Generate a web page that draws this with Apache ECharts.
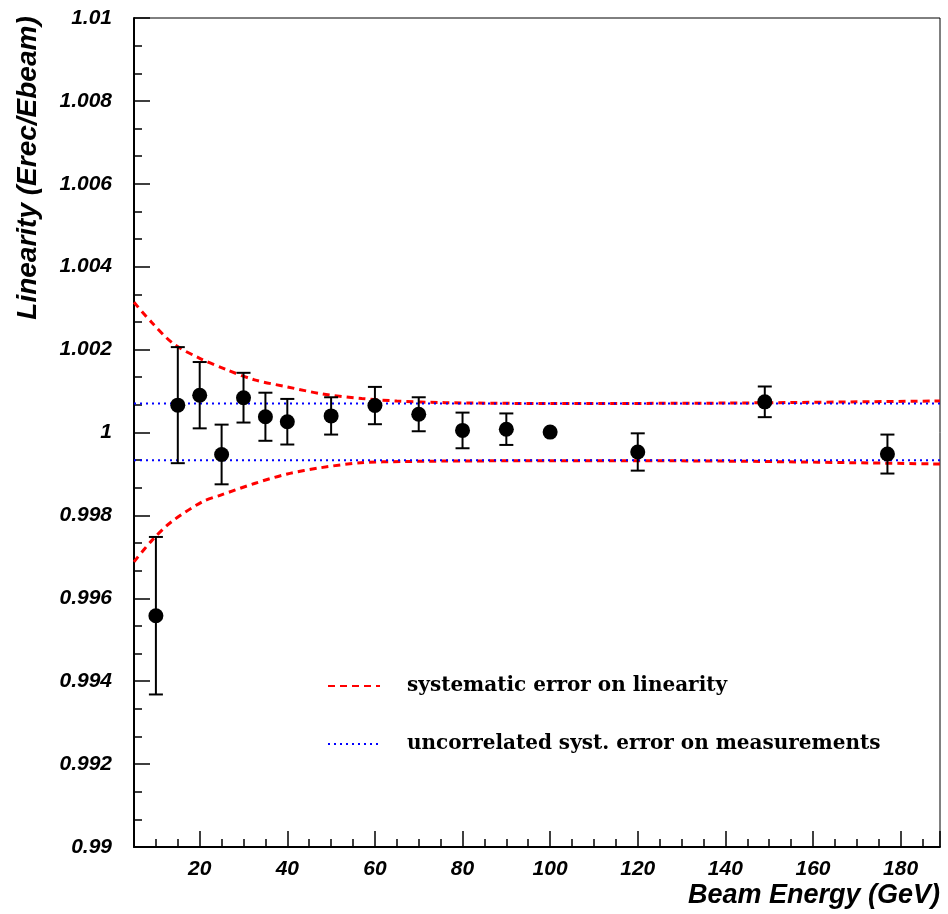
<!DOCTYPE html>
<html>
<head>
<meta charset="utf-8">
<script src="https://cdn.jsdelivr.net/npm/echarts@6/dist/echarts.min.js"></script>
<style>html,body{margin:0;padding:0;background:#fff;}#chart{width:948px;height:914px;}</style>
</head>
<body>
<div id="chart"></div>
<script>
// Measured points
var energies  = [10, 15, 20, 25, 30, 35, 40, 50, 60, 70, 80, 90, 100, 120, 149, 177];
var linearity = [0.99558, 1.00066, 1.00090, 0.99947, 1.00084, 1.00038, 1.00026, 1.00040, 1.00065, 1.00044, 1.00005, 1.00008, 1.00001, 0.99953, 1.00074, 0.99948];
var errors    = [0.0019, 0.0014, 0.0008, 0.00072, 0.0006, 0.00058, 0.00055, 0.00045, 0.00045, 0.00041, 0.00043, 0.00038, 0, 0.00045, 0.00037, 0.00047];

// Systematic error band (red dashed)
var sysUpperE = [5, 9, 14, 20, 26, 32.5, 40, 48, 57, 65, 76, 100, 140, 189];
var sysUpperV = [1.00314, 1.00266, 1.00214, 1.00179, 1.00152, 1.00127, 1.00110, 1.00093, 1.00082, 1.00076, 1.00072, 1.00070, 1.00071, 1.00076];
var sysLowerE = [5, 9.2, 13.6, 20.6, 24.8, 32.5, 40, 47.6, 56.8, 66.7, 76, 100, 140, 189];
var sysLowerV = [0.99688, 0.99741, 0.99785, 0.99833, 0.99849, 0.99877, 0.99900, 0.99915, 0.99927, 0.99930, 0.99931, 0.99932, 0.99931, 0.99924];

// Uncorrelated systematic error (blue dotted)
var uncorrE = [5, 189];
var uncorrUpper = [1.0007, 1.0007];
var uncorrLower = [0.99933, 0.99933];

var xMin = 5, xMax = 189, yMin = 0.99, yMax = 1.01;
var sysName = 'systematic error on linearity';
var uncName = 'uncorrelated syst. error on measurements';

function pairs(xs, ys) { return xs.map(function (x, i) { return [x, ys[i]]; }); }

var axisFont = { fontFamily: 'Liberation Sans', fontStyle: 'italic', fontWeight: 'bold', color: '#000' };
var gridBox = { left: 134, right: 8, top: 18, bottom: 67, containLabel: false };

var chart = echarts.init(document.getElementById('chart'), null, { renderer: 'canvas' });
chart.setOption({
  backgroundColor: '#fff',
  animation: false,
  grid: [
    Object.assign({ show: true, borderColor: '#000', borderWidth: 1, backgroundColor: 'transparent' }, gridBox),
    Object.assign({ show: false }, gridBox)
  ],
  xAxis: [
    {
      type: 'value', gridIndex: 0, min: xMin, max: xMax, interval: 5,
      axisLine: { show: true, onZero: false, lineStyle: { color: '#000', width: 2 } },
      axisTick: { show: true, inside: true, length: 8, lineStyle: { color: '#000', width: 1.5 } },
      axisLabel: Object.assign({ fontSize: 21, margin: 12, formatter: function (v) { return (v % 20 === 0) ? String(v) : ''; } }, axisFont),
      splitLine: { show: false }
    },
    {
      type: 'value', gridIndex: 1, min: xMin, max: xMax, minInterval: 20, maxInterval: 20,
      axisLine: { show: false, onZero: false },
      axisTick: { show: true, inside: true, length: 16, lineStyle: { color: '#000', width: 1.5 } },
      axisLabel: { show: false },
      splitLine: { show: false }
    }
  ],
  yAxis: [
    {
      type: 'value', gridIndex: 0, min: yMin, max: yMax, interval: 0.002,
      axisLine: { show: true, onZero: false, lineStyle: { color: '#000', width: 2 } },
      axisTick: { show: true, inside: true, length: 16, lineStyle: { color: '#000', width: 1.5 } },
      minorTick: { show: true, splitNumber: 3, length: 8, lineStyle: { color: '#000', width: 1.5 } },
      axisLabel: Object.assign({ fontSize: 21, margin: 22 }, axisFont),
      splitLine: { show: false }, minorSplitLine: { show: false }
    },
    {
      type: 'value', gridIndex: 1, min: yMin, max: yMax, show: false
    }
  ],
  legend: {
    orient: 'vertical', left: 322, top: 671, itemWidth: 52, itemHeight: 12, itemGap: 38,
    data: [sysName, uncName],
    textStyle: { fontFamily: 'DejaVu Serif', fontWeight: 'bold', fontSize: 20, color: '#000', padding: [0, 0, 0, 22] },
    itemStyle: { opacity: 0 }
  },
  graphic: [
    {
      type: 'text', right: 8, top: 882,
      style: { text: 'Beam Energy (GeV)', fontSize: 27, fill: '#000', fontFamily: 'Liberation Sans', fontStyle: 'italic', fontWeight: 'bold' }
    },
    {
      type: 'text', x: 28, y: 168, rotation: Math.PI / 2,
      style: { text: 'Linearity (Erec/Ebeam)', fontSize: 28, fill: '#000', fontFamily: 'Liberation Sans', fontStyle: 'italic', fontWeight: 'bold', align: 'center', verticalAlign: 'middle' }
    }
  ],
  series: [
    {
      name: sysName, type: 'line', xAxisIndex: 0, yAxisIndex: 0, data: pairs(sysUpperE, sysUpperV),
      smooth: 0.3, symbol: 'none', lineStyle: { color: '#ff0000', width: 3, type: [7, 5] }, itemStyle: { color: '#ff0000' }, z: 2
    },
    {
      name: sysName, type: 'line', xAxisIndex: 0, yAxisIndex: 0, data: pairs(sysLowerE, sysLowerV),
      smooth: 0.3, symbol: 'none', lineStyle: { color: '#ff0000', width: 3, type: [7, 5] }, itemStyle: { color: '#ff0000' }, z: 2
    },
    {
      name: uncName, type: 'line', xAxisIndex: 0, yAxisIndex: 0, data: pairs(uncorrE, uncorrUpper),
      symbol: 'none', lineStyle: { color: '#0000ff', width: 2, type: [2, 4] }, itemStyle: { color: '#0000ff' }, z: 3
    },
    {
      name: uncName, type: 'line', xAxisIndex: 0, yAxisIndex: 0, data: pairs(uncorrE, uncorrLower),
      symbol: 'none', lineStyle: { color: '#0000ff', width: 2, type: [2, 4] }, itemStyle: { color: '#0000ff' }, z: 3
    },
    {
      name: 'errors', type: 'custom', xAxisIndex: 0, yAxisIndex: 0, z: 4,
      data: energies.map(function (e, i) { return [e, linearity[i] - errors[i], linearity[i] + errors[i]]; }),
      renderItem: function (params, api) {
        var lo = api.coord([api.value(0), api.value(1)]);
        var hi = api.coord([api.value(0), api.value(2)]);
        if (Math.abs(hi[1] - lo[1]) < 1) return { type: 'group', children: [] };
        var hw = 7, st = { stroke: '#000', lineWidth: 2 };
        return {
          type: 'group',
          children: [
            { type: 'line', shape: { x1: lo[0], y1: lo[1], x2: hi[0], y2: hi[1] }, style: st },
            { type: 'line', shape: { x1: lo[0] - hw, y1: lo[1], x2: lo[0] + hw, y2: lo[1] }, style: st },
            { type: 'line', shape: { x1: hi[0] - hw, y1: hi[1], x2: hi[0] + hw, y2: hi[1] }, style: st }
          ]
        };
      }
    },
    {
      name: 'data', type: 'scatter', xAxisIndex: 0, yAxisIndex: 0, z: 5,
      data: pairs(energies, linearity), symbol: 'circle', symbolSize: 15,
      itemStyle: { color: '#000', opacity: 1 }
    }
  ]
});
</script>
</body>
</html>
